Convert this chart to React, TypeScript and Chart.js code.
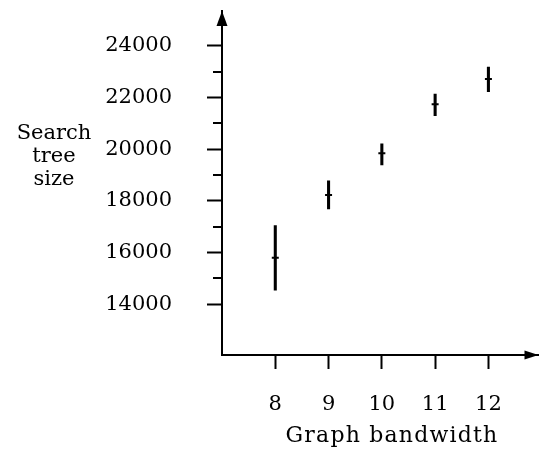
import { useEffect, useRef } from 'react';
import { Chart, registerables } from 'chart.js';

Chart.register(...registerables);

// ---- data ----
const bandwidth = [8, 9, 10, 11, 12];
const meanSize = [15800, 18230, 19840, 21730, 22710];
const lowSize = [14550, 17690, 19390, 21290, 22220];
const highSize = [17040, 18770, 20200, 22130, 23170];

const xTickValues = [8, 9, 10, 11, 12];
const yTickValues = [14000, 16000, 18000, 20000, 22000, 24000];
const yMinorTickValues = [15000, 17000, 19000, 21000, 23000];

const xTitle = 'Graph bandwidth';
const yTitleLines = ['Search', 'tree', 'size'];

const FAMILY = '"DejaVu Serif", serif';

export default function App() {
  const ref = useRef<HTMLCanvasElement>(null);

  useEffect(() => {
    const canvas = ref.current;
    if (!canvas) return;

    const axisDecor = {
      id: 'axisDecor',
      afterDraw(chart: any) {
        const { ctx, chartArea, scales } = chart;
        const ys = scales.y;
        ctx.save();
        ctx.strokeStyle = '#000';
        ctx.fillStyle = '#000';
        ctx.lineWidth = 2;
        // minor ticks on the y axis
        yMinorTickValues.forEach((v) => {
          const py = Math.round(ys.getPixelForValue(v));
          ctx.beginPath();
          ctx.moveTo(chartArea.left - 9, py);
          ctx.lineTo(chartArea.left, py);
          ctx.stroke();
        });
        // arrow heads
        const l = chartArea.left;
        const t = chartArea.top;
        ctx.beginPath();
        ctx.moveTo(l, t);
        ctx.lineTo(l - 5.5, t + 15);
        ctx.lineTo(l + 5.5, t + 15);
        ctx.closePath();
        ctx.fill();
        const r = chartArea.right;
        const b = chartArea.bottom;
        ctx.beginPath();
        ctx.moveTo(r, b);
        ctx.lineTo(r - 14, b - 4.5);
        ctx.lineTo(r - 14, b + 4.5);
        ctx.closePath();
        ctx.fill();
        // axis titles
        ctx.font = `21px ${FAMILY}`;
        ctx.textAlign = 'center';
        ctx.textBaseline = 'alphabetic';
        yTitleLines.forEach((s, i) => ctx.fillText(s, 54, 138.5 + i * 23.4));
        ctx.font = `22px ${FAMILY}`;
        (ctx as any).letterSpacing = '1.2px';
        ctx.fillText(xTitle, 392, 441.5);
        ctx.restore();
      },
    };

    const chart = new Chart(canvas, {
      type: 'bar',
      data: {
        datasets: [
          {
            type: 'bar',
            data: bandwidth.map((x, i) => ({ x, y: [lowSize[i], highSize[i]] })) as any,
            backgroundColor: '#000',
            borderWidth: 0,
            barThickness: 2.4,
            grouped: false,
          } as any,
          {
            type: 'line',
            data: bandwidth.map((x, i) => ({ x, y: meanSize[i] })) as any,
            showLine: false,
            pointStyle: 'line',
            pointRadius: 3.5,
            pointHoverRadius: 3.5,
            pointBorderWidth: 2,
            pointBorderColor: '#000',
            borderColor: '#000',
          } as any,
        ],
      },
      options: {
        responsive: false,
        animation: false,
        events: [],
        layout: { padding: { top: 11, right: 4, left: 0, bottom: 0 } },
        plugins: { legend: { display: false }, tooltip: { enabled: false } },
        scales: {
          x: {
            type: 'linear',
            offset: false,
            min: 7,
            max: 12.94,
            afterBuildTicks: (s: any) => {
              s.ticks = xTickValues.map((v) => ({ value: v }));
            },
            afterFit: (s: any) => {
              s.height = 96;
              s.paddingLeft = 0;
              s.paddingRight = 0;
            },
            grid: {
              offset: false,
              drawOnChartArea: false,
              tickLength: 14,
              tickWidth: 2,
              tickColor: '#000',
              color: '#000',
            },
            border: { display: true, color: '#000', width: 2 },
            ticks: {
              font: { family: FAMILY, size: 21 },
              color: '#000',
              padding: 23,
              maxRotation: 0,
              autoSkip: false,
              callback: (v: any) => String(v),
            },
          },
          y: {
            type: 'linear',
            min: 12040,
            max: 25340,
            afterBuildTicks: (s: any) => {
              s.ticks = yTickValues.map((v) => ({ value: v }));
            },
            afterFit: (s: any) => {
              s.width = 222;
              s.paddingTop = 0;
              s.paddingBottom = 0;
            },
            grid: {
              drawOnChartArea: false,
              tickLength: 15,
              tickWidth: 2,
              tickColor: '#000',
              color: '#000',
            },
            border: { display: true, color: '#000', width: 2 },
            ticks: {
              font: { family: FAMILY, size: 21 },
              color: '#000',
              padding: 35,
              autoSkip: false,
              callback: (v: any) => String(v),
            },
          },
        },
      } as any,
      plugins: [axisDecor],
    });

    return () => chart.destroy();
  }, []);

  return (
    <div style={{ position: 'absolute', left: 0, top: 0, width: 544, height: 451, background: '#fff' }}>
      <canvas ref={ref} width={544} height={451} />
    </div>
  );
}
